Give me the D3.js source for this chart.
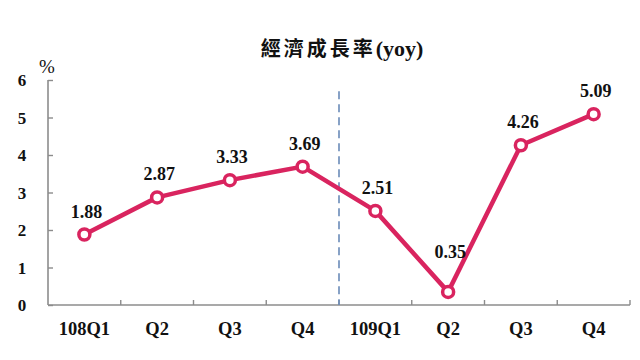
<!DOCTYPE html>
<html><head><meta charset="utf-8">
<script src="https://cdn.jsdelivr.net/npm/d3@7/dist/d3.min.js"></script>
<style>body{margin:0;background:#fff}svg{display:block}</style>
</head><body>
<script>
const categories = ["108Q1","Q2","Q3","Q4","109Q1","Q2 ","Q3 ","Q4 "];
const tickLabels = ["108Q1","Q2","Q3","Q4","109Q1","Q2","Q3","Q4"];
const growth = [1.88, 2.87, 3.33, 3.69, 2.51, 0.35, 4.26, 5.09];
const yTicks = [0,1,2,3,4,5,6];
const titleMain = "經濟成長率";
const titleSuffix = "(yoy)";
const dividerAfter = "Q4"; // dashed line between 108 and 109

const W = 640, H = 360;
const m = {left:48, right:10, top:80, bottom:55};
const svg = d3.select("body").append("svg").attr("width",W).attr("height",H);
const x = d3.scaleBand().domain(categories).range([m.left, W - m.right]);
const y = d3.scaleLinear().domain([0,6]).range([H - m.bottom, m.top]);
const serif = "'Liberation Serif','Times New Roman',serif";
const axisColor = "#8c8c8c";
const lineColor = "#d9245f";

const t = svg.append("text").attr("x",342).attr("y",56).attr("text-anchor","middle")
  .attr("font-family","'Liberation Serif','Noto Sans CJK TC',serif").attr("font-weight","bold")
  .attr("font-size",20).attr("fill","#111");
t.append("tspan").attr("letter-spacing",3).attr("font-weight","600").text(titleMain);
t.append("tspan").attr("font-size",22).text(titleSuffix);

// Y axis
const yAxis = svg.append("g").attr("transform",`translate(${m.left},0)`)
  .call(d3.axisRight(y).tickValues(yTicks).tickSize(5).tickFormat(""));
yAxis.select(".domain").attr("stroke",axisColor).attr("stroke-width",1.6).attr("d",`M0,${y(6)}V${y(0)}`);
yAxis.selectAll(".tick line").attr("stroke",axisColor).attr("stroke-width",1.4);
svg.append("g").selectAll("text").data(yTicks).join("text")
  .attr("x",22).attr("y",d=>y(d)+6).attr("text-anchor","middle")
  .attr("font-family",serif).attr("font-weight","bold").attr("font-size",17).attr("fill","#111")
  .text(d=>d);
svg.append("text").attr("x",47).attr("y",73).attr("text-anchor","middle")
  .attr("font-family",serif).attr("font-size",19).attr("fill","#111").text("%");

// X axis
const xAxis = svg.append("g").attr("transform",`translate(0,${y(0)})`)
  .call(d3.axisBottom(x).tickSize(0).tickFormat(""));
xAxis.select(".domain").attr("stroke",axisColor).attr("stroke-width",1.6)
  .attr("d",`M${m.left},0H${W-m.right}`);
xAxis.selectAll(".tick").remove();
const bounds = categories.map(c => x(c) + x.bandwidth());
svg.append("g").selectAll("line").data(bounds).join("line")
  .attr("x1",d=>d).attr("x2",d=>d).attr("y1",y(0)).attr("y2",y(0)-5)
  .attr("stroke",axisColor).attr("stroke-width",1.4);
svg.append("g").selectAll("text").data(categories).join("text")
  .attr("x",d=>x(d)+x.bandwidth()/2).attr("y",y(0)+30).attr("text-anchor","middle")
  .attr("font-family",serif).attr("font-weight","bold").attr("font-size",18.5).attr("fill","#111")
  .text((d,i)=>tickLabels[i]);

// dashed divider
const dx = x(dividerAfter) + x.bandwidth();
svg.append("line").attr("x1",dx).attr("x2",dx).attr("y1",y(5.7)).attr("y2",y(0))
  .attr("stroke","#6a8bb8").attr("stroke-width",1.6).attr("stroke-dasharray","8,5");

// line
const pts = categories.map((c,i)=>({c, v:growth[i]}));
const line = d3.line().x(d=>x(d.c)+x.bandwidth()/2).y(d=>y(d.v));
svg.append("path").datum(pts).attr("d",line).attr("fill","none")
  .attr("stroke",lineColor).attr("stroke-width",4.5).attr("stroke-linejoin","round");
svg.append("g").selectAll("circle").data(pts).join("circle")
  .attr("cx",d=>x(d.c)+x.bandwidth()/2).attr("cy",d=>y(d.v)).attr("r",5.5)
  .attr("fill","#fff").attr("stroke",lineColor).attr("stroke-width",3.5);

// value labels
svg.append("g").selectAll("text").data(pts).join("text")
  .attr("x",d=>x(d.c)+x.bandwidth()/2+2)
  .attr("y",(d,i)=>{
    const isMin = i>0 && i<pts.length-1 && d.v<pts[i-1].v && d.v<pts[i+1].v;
    return y(d.v) - (isMin ? 34 : 17);
  })
  .attr("text-anchor","middle")
  .attr("font-family",serif).attr("font-weight","bold").attr("font-size",18).attr("fill","#111")
  .text(d=>d.v.toFixed(2));
</script>
</body></html>
